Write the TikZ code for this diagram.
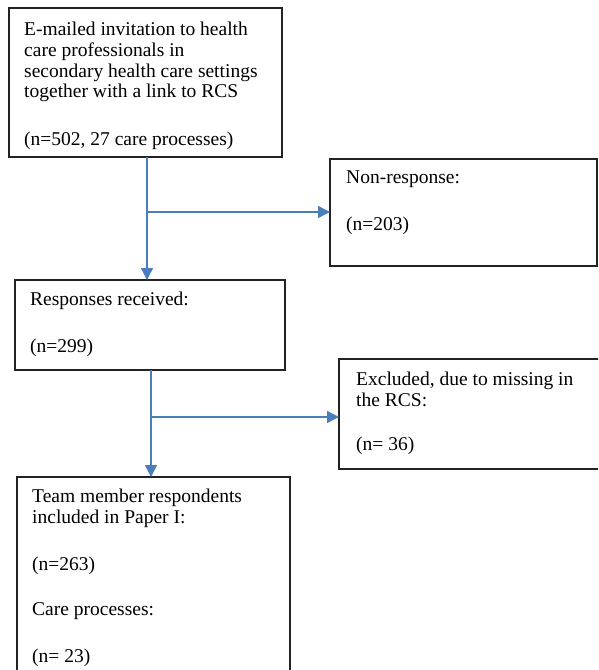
\documentclass[tikz,border=0pt]{standalone}
\usepackage{fontspec}
\setmainfont{Liberation Serif}
\usetikzlibrary{arrows.meta}
\definecolor{flowblue}{RGB}{74,126,187}
\definecolor{boxline}{RGB}{35,35,35}

\begin{document}
\begin{tikzpicture}[x=1pt,y=-1pt,
  box/.style={draw=boxline, line width=1.3pt, rectangle, inner sep=0pt, outer sep=0pt, anchor=north west},
  txt/.style={anchor=base west, inner sep=0pt, font=\fontsize{19.5}{20.7}\selectfont, align=left},
  flow/.style={draw=flowblue, line width=1.4pt, -{Triangle[length=12pt,width=12pt]}}]

  % page frame
  \clip (0,0) rectangle (598,670);

  % boxes
  \node[box, minimum width=273pt, minimum height=149pt] (invite)  at (9,8)   {};
  \node[box, minimum width=267pt, minimum height=107pt] (nonresp) at (330,159) {};
  \node[box, minimum width=270pt, minimum height=90pt]  (resp)    at (15,280)  {};
  \node[box, minimum width=275pt, minimum height=110pt] (excl)    at (339,359) {};
  \node[box, minimum width=273pt, minimum height=215pt] (team)    at (17,477)  {};

  % texts (multi-line nodes sit on the baseline of their last line)
  \node[txt] (inviteA) at (24,97.8) {E-mailed invitation to health\\care professionals in\\secondary health care settings\\together with a link to RCS};
  \node[txt] (inviteB) at (24,145.5) {(n=502, 27 care processes)};

  \node[txt] (nonrespA) at (346,183) {Non-response:};
  \node[txt] (nonrespB) at (346,230) {(n=203)};

  \node[txt] (respA) at (30,305) {Responses received:};
  \node[txt] (respB) at (30,352) {(n=299)};

  \node[txt] (exclA) at (356,406) {Excluded, due to missing in\\the RCS:};
  \node[txt] (exclB) at (356,450) {(n= 36)};

  \node[txt] (teamA) at (32,523) {Team member respondents\\included in Paper I:};
  \node[txt] (teamB) at (32,570) {(n=263)};
  \node[txt] (teamC) at (32,615) {Care processes:};
  \node[txt] (teamD) at (32,662) {(n= 23)};

  % connectors
  \coordinate (j1) at (147,212);
  \coordinate (j2) at (151,417);
  \draw[flow] (invite.south -| j1) -- (resp.north -| j1);
  \draw[flow] (j1) -- (nonresp.west |- j1);
  \draw[flow] (resp.south -| j2) -- (team.north -| j2);
  \draw[flow] (j2) -- (excl.west |- j2);
\end{tikzpicture}
\end{document}
